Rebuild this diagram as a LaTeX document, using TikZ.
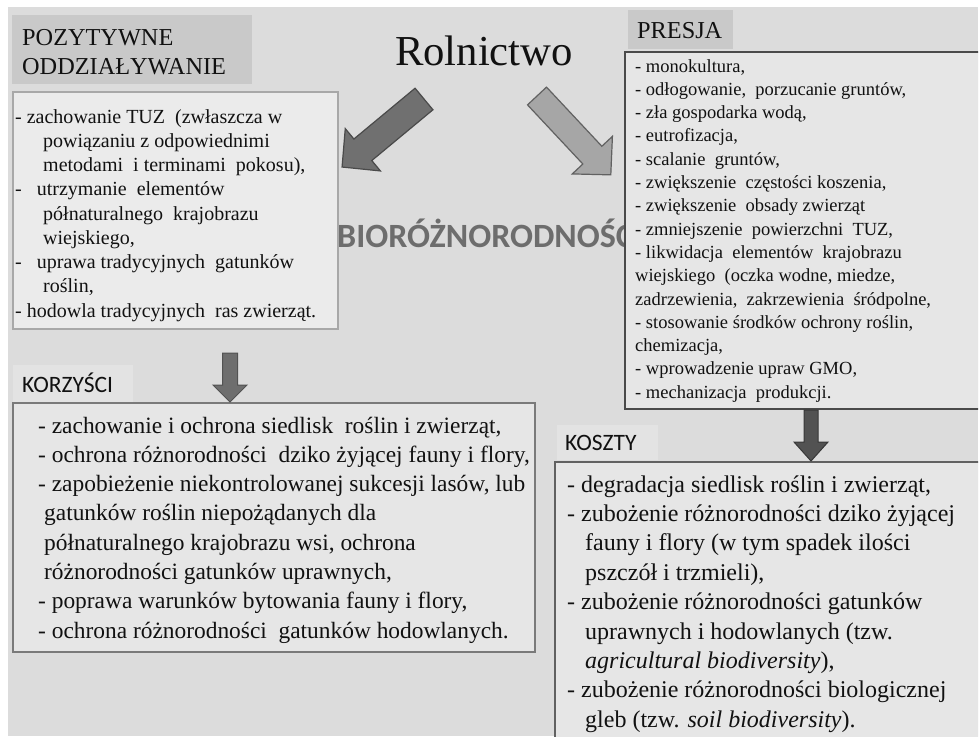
\documentclass[tikz,border=0pt]{standalone}
\usepackage{fontspec}
\setmainfont{Liberation Serif}
\setsansfont{Carlito}
\definecolor{pagebg}{HTML}{DCDCDC}
\definecolor{hdrdark}{HTML}{C9C9C9}
\definecolor{hdrlight}{HTML}{E3E3E3}
\definecolor{boxfill}{HTML}{E6E6E6}
\definecolor{posfill}{HTML}{EBEBEB}
\definecolor{posline}{HTML}{A8A8A8}
\definecolor{darkline}{HTML}{4A4A4A}
\definecolor{midline}{HTML}{7A7A7A}
\definecolor{biogray}{HTML}{6D6D6D}
\definecolor{txt}{HTML}{111111}
\newcommand\blockarrow[8]{%
  \begin{scope}[shift={(#2,#3)},rotate=#4]
    \path[#1] (0,-#6/2) -- (#5-#8,-#6/2) -- (#5-#8,-#7/2) -- (#5,0)
      -- (#5-#8,#7/2) -- (#5-#8,#6/2) -- (0,#6/2) -- cycle;
  \end{scope}}
\tikzset{
  panel/.style={anchor=north west, inner sep=0pt, outer sep=0pt},
  body/.style={anchor=base west, inner sep=0pt, text=txt},
  arrowdark/.style={fill=black!56, draw=darkline, line width=1.2pt, line join=miter},
  arrowlight/.style={fill=black!35, draw=black!62, line width=1.2pt, line join=miter},
  arrowdown/.style={fill=black!57, draw=black!68, line width=1pt},
  arrowdown2/.style={fill=black!68, draw=black!78, line width=1pt}
}
\begin{document}
\begin{tikzpicture}[x=1pt,y=-1pt]
\useasboundingbox (0,0) rectangle (979,736);
\fill[white] (0,0) rectangle (979,736);
\clip (8,7) rectangle (978,736);
\fill[pagebg] (8,7) rectangle (978,736);

% headers
\node[panel, fill=hdrdark, minimum width=240, minimum height=69] (hpoz) at (12,15) {};
\node[body, font=\rmfamily\fontsize{24.3}{29}\selectfont] (tpoz) at (22,45)
  {\begin{tabular}[t]{@{}l@{}}POZYTYWNE\\ODDZIAŁYWANIE\end{tabular}};
\node[panel, fill=hdrdark, minimum width=105, minimum height=39] (hpres) at (628,10) {};
\node[body, font=\rmfamily\fontsize{24.3}{29}\selectfont] (tpres) at (637,38) {PRESJA};

% title
\node[anchor=base, inner sep=0pt, text=txt, font=\rmfamily\fontsize{42.7}{50}\selectfont] (title) at (484,65) {Rolnictwo};

% biodiversity word
\node[anchor=base west, inner sep=0pt, text=biogray, font=\sffamily\bfseries\fontsize{34}{40}\selectfont] (bio) at (337,247) {BIORÓŻNORODNOŚĆ};

% positive box
\node[panel, fill=posfill, draw=posline, line width=1.5pt, minimum width=325, minimum height=237] (posbox) at (13,92) {};
\node[body, font=\rmfamily\fontsize{20}{24.25}\selectfont] (postext) at (15,123)
  {\begin{tabular}[t]{@{}l@{}}
  - zachowanie TUZ \ (zwłaszcza w\\
  \hspace*{28pt}powiązaniu z odpowiednimi\\
  \hspace*{28pt}metodami \ i terminami \ pokosu),\\
  - \ \ utrzymanie \ elementów\\
  \hspace*{28pt}półnaturalnego \ krajobrazu\\
  \hspace*{28pt}wiejskiego,\\
  - \ \ uprawa tradycyjnych \ gatunków\\
  \hspace*{28pt}roślin,\\
  - hodowla tradycyjnych \ ras zwierząt.
  \end{tabular}};

% presja box
\node[panel, fill=boxfill, draw=darkline, line width=2pt, minimum width=380, minimum height=357] (presbox) at (625,52) {};
\node[body, font=\rmfamily\fontsize{18.5}{23.3}\selectfont] (prestext) at (635,72)
  {\begin{tabular}[t]{@{}l@{}}
  - monokultura,\\
  - odłogowanie, \ porzucanie gruntów,\\
  - zła gospodarka wodą,\\
  - eutrofizacja,\\
  - scalanie \ gruntów,\\
  - zwiększenie \ częstości koszenia,\\
  - zwiększenie \ obsady zwierząt\\
  - zmniejszenie \ powierzchni \ TUZ,\\
  - likwidacja \ elementów \ krajobrazu\\
  wiejskiego \ (oczka wodne, miedze,\\
  zadrzewienia, \ zakrzewienia \ śródpolne,\\
  - stosowanie środków ochrony roślin,\\
  chemizacja,\\
  - wprowadzenie upraw GMO,\\
  - mechanizacja \ produkcji.
  \end{tabular}};

% korzysci
\node[panel, fill=hdrlight, minimum width=120, minimum height=37] (hkorz) at (13,365) {};
\node[body, font=\sffamily\fontsize{23.5}{28}\selectfont] (tkorz) at (22,392) {KORZYŚCI};
\node[panel, fill=boxfill, draw=midline, line width=2pt, minimum width=522, minimum height=249] (korzbox) at (13,403) {};
\node[body, font=\rmfamily\fontsize{23.4}{29.3}\selectfont] (korztext) at (38,433)
  {\begin{tabular}[t]{@{}l@{}}
  - zachowanie i ochrona siedlisk \ roślin i zwierząt,\\
  - ochrona różnorodności \ dziko żyjącej fauny i flory,\\
  - zapobieżenie niekontrolowanej sukcesji lasów, lub\\
  \hspace*{6pt}gatunków roślin niepożądanych dla\\
  \hspace*{6pt}półnaturalnego krajobrazu wsi, ochrona\\
  \hspace*{6pt}różnorodności gatunków uprawnych,\\
  - poprawa warunków bytowania fauny i flory,\\
  - ochrona różnorodności \ gatunków hodowlanych.
  \end{tabular}};

% koszty
\node[panel, fill=hdrlight, minimum width=101, minimum height=35] (hkosz) at (557,425) {};
\node[body, font=\sffamily\fontsize{23.5}{28}\selectfont] (tkosz) at (565,450) {KOSZTY};
\node[panel, fill=boxfill, draw=black!62, line width=2pt, minimum width=450, minimum height=300] (koszbox) at (555,462) {};
\node[body, font=\rmfamily\fontsize{24}{29.4}\selectfont] (kosztext) at (567,492)
  {\begin{tabular}[t]{@{}l@{}}
  - degradacja siedlisk roślin i zwierząt,\\
  - zubożenie różnorodności dziko żyjącej\\
  \hspace*{18pt}fauny i flory (w tym spadek ilości\\
  \hspace*{18pt}pszczół i trzmieli),\\
  - zubożenie różnorodności gatunków\\
  \hspace*{18pt}uprawnych i hodowlanych (tzw.\\
  \hspace*{18pt}\textit{agricultural biodiversity}),\\
  - zubożenie różnorodności biologicznej\\
  \hspace*{18pt}gleb (tzw. \textit{soil biodiversity}).
  \end{tabular}};

% arrows
\blockarrow{arrowdark}{424}{99}{219.7}{106.5}{28}{55}{27}
\blockarrow{arrowlight}{537}{96}{-46.9}{108}{26}{55}{27}
\blockarrow{arrowdown}{230}{353}{-90}{49}{15}{34}{17}
\blockarrow{arrowdown2}{811}{410}{-90}{51}{14}{34}{19}
\end{tikzpicture}
\end{document}
